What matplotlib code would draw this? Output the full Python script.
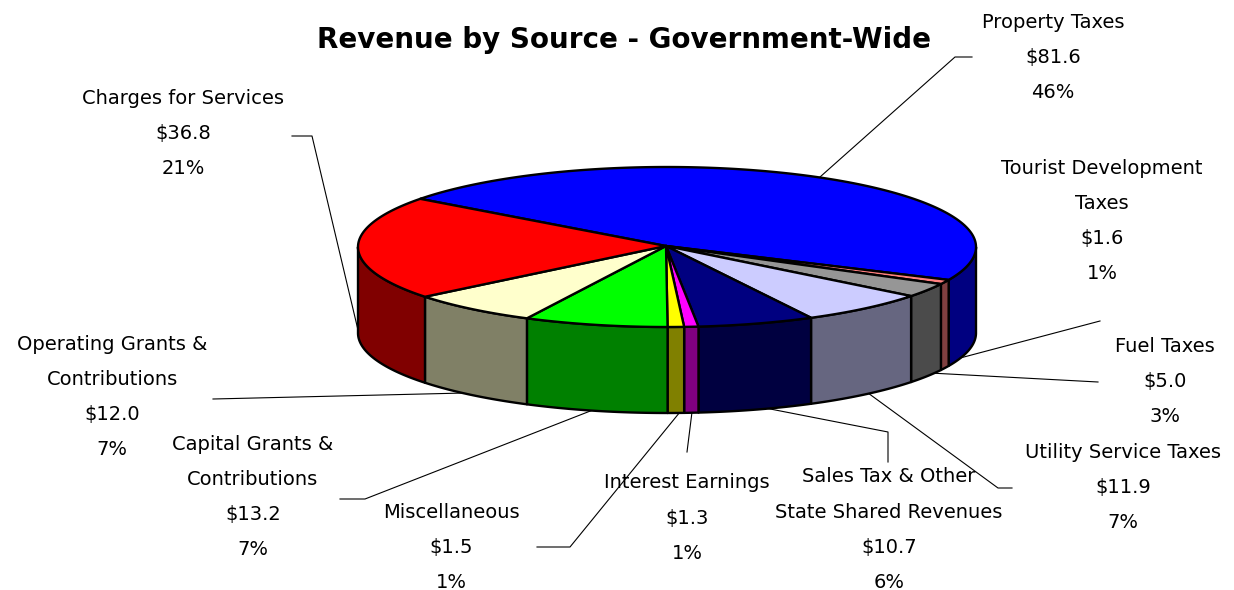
#!/usr/bin/env python3
# Revenue by source: 3-D style pie, drawn as projected ellipse slices in pixel coordinates.
import matplotlib; matplotlib.use("Agg")
import numpy as np, matplotlib.pyplot as plt
from matplotlib.patches import Polygon

names=["Property Taxes","Tourist Development\nTaxes","Fuel Taxes","Utility Service Taxes",
       "Sales Tax & Other\nState Shared Revenues","Interest Earnings","Miscellaneous",
       "Capital Grants &\nContributions","Operating Grants &\nContributions","Charges for Services"]
amounts=[81.6,1.6,5.0,11.9,10.7,1.3,1.5,13.2,12.0,36.8]
percents=[46,1,3,7,6,1,1,7,7,21]
top_colors=["#0000FF","#FF8080","#969696","#CCCCFF","#000080","#FF00FF","#FFFF00","#00FF00","#FFFFCC","#FF0000"]
side_colors=["#000080","#804040","#4B4B4B","#666680","#000040","#800080","#808000","#008000","#808066","#800000"]

# label centre x and y of first line, pixels
label_x=[1053,1102,1165,1123,889,687,451,253,112,183]
label_y=[20,166,344,450,475,481,510,442,342,96]
# leader lines, pixels
leaders=[[(820,177),(955,57),(972,57)],
         [(945,362),(1100,321)],
         [(930,373),(1098,382)],
         [(868,393),(998,488),(1012,488)],
         [(760,407),(888,432),(888,462)],
         [(692,412),(687,452)],
         [(680,412),(570,547),(537,547)],
         [(598,408),(365,499),(340,499)],
         [(465,393),(213,399)],
         [(358,330),(312,136),(292,136)]]

CX,CY,RX,RY,DEPTH=667,247,309,80,86
START=143
LW=1.7

def arc(t0,t1):
    t=np.radians(np.linspace(t0,t1,max(int(abs(t1-t0))*2,2)))
    return np.column_stack([CX+RX*np.cos(t),CY-RY*np.sin(t)])

fig=plt.figure(figsize=(12.34,5.90),dpi=100)
ax=fig.add_axes([0,0,1,1])
ax.set_xlim(0,1234); ax.set_ylim(590,0); ax.axis("off")

for pts in leaders:
    xs,ys=zip(*pts)
    ax.plot(xs,ys,color="black",lw=0.8,zorder=1)

edges=START-np.cumsum([0]+amounts)/sum(amounts)*360
# side walls: only the front half of the rim shows
for i in range(len(amounts)):
    hi,lo=min(edges[i],0),max(edges[i+1],-180)
    if hi<=lo: continue
    a=arc(hi,lo)
    wall=np.vstack([a,a[::-1]+[0,DEPTH]])
    ax.add_patch(Polygon(wall,closed=True,fc=side_colors[i],ec="black",lw=LW,joinstyle="round",zorder=2))
# top faces
for i in range(len(amounts)):
    a=arc(edges[i],edges[i+1])
    ax.add_patch(Polygon(np.vstack([[CX-1,CY-1],a]),closed=True,fc=top_colors[i],ec="black",lw=LW,joinstyle="round",zorder=3))

ax.text(624,40,"Revenue by Source - Government-Wide",ha="center",va="center",
        fontsize=20,fontweight="bold",family="DejaVu Sans",zorder=5)

for name,amt,pct,x,y in zip(names,amounts,percents,label_x,label_y):
    lines=name.split("\n")+["$%.1f"%amt,"%d%%"%pct]
    for j,line in enumerate(lines):
        ax.text(x,y+j*35.2,line,ha="center",va="center_baseline",fontsize=14,family="DejaVu Sans",zorder=5)

fig.savefig("out.png",dpi=100,metadata={"Software":None})
